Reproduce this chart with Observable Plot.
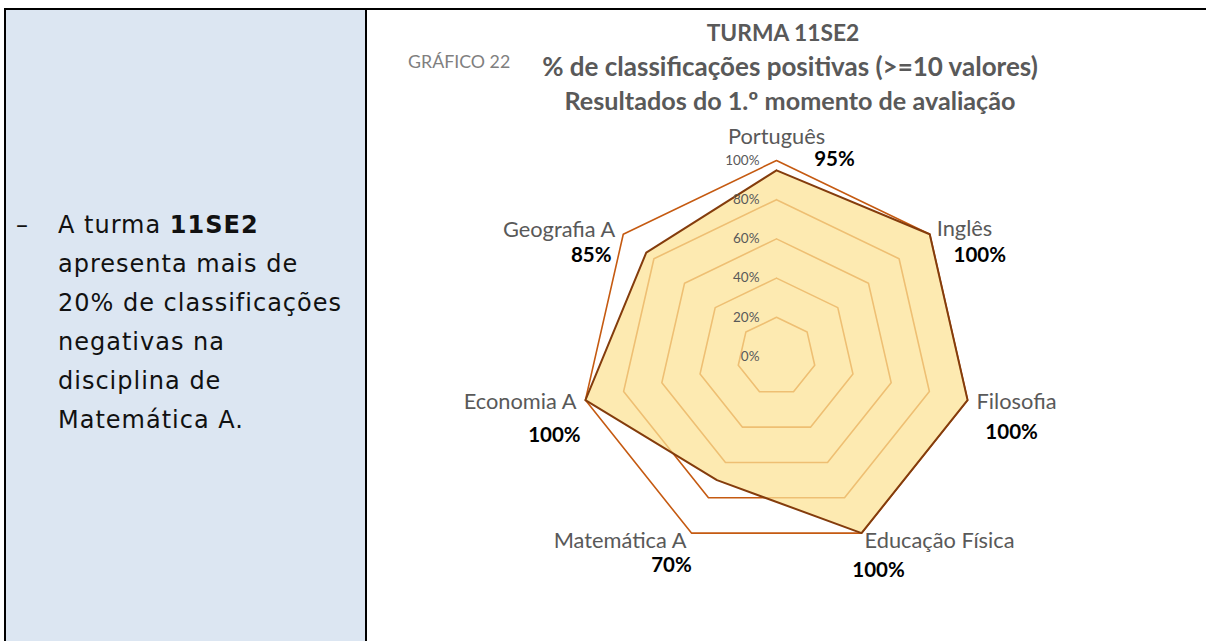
<!DOCTYPE html>
<html>
<head>
<meta charset="utf-8">
<script src="https://cdn.jsdelivr.net/npm/d3@7"></script>
<script src="https://cdn.jsdelivr.net/npm/@observablehq/plot@0.6"></script>
<style>
  html, body { margin: 0; padding: 0; background: #fff; }
  #page { position: relative; width: 1206px; height: 641px; overflow: hidden; background: #fff; }
  .bar { position: absolute; background: #000; }
  #panel { position: absolute; left: 6px; top: 10px; width: 359px; height: 631px; background: #DCE6F2; }
  #note { position: absolute; left: 0; top: 0; font-family: "DejaVu Sans", sans-serif; font-size: 24px; color: #111; letter-spacing: 1.0px; }
  #note div { position: absolute; white-space: nowrap; line-height: 30px; }
  .t { position: absolute; left: 368px; width: 844px; text-align: center; font-family: Lato, "Open Sans", sans-serif; font-weight: bold; color: #595959; white-space: nowrap; line-height: 1.2; }
  #fig { position: absolute; left: 408px; top: 51px; font-family: Lato, sans-serif; font-size: 17.8px; color: #7F7F7F; line-height: 1.2; }
  #chart { position: absolute; left: 368px; top: 120px; }
</style>
</head>
<body>
<div id="page">
  <div id="panel"></div>
  <div class="bar" style="left:4px;top:8px;width:1202px;height:2px"></div>
  <div class="bar" style="left:4px;top:8px;width:2px;height:633px"></div>
  <div class="bar" style="left:365px;top:8px;width:2px;height:633px"></div>
  <div id="note"></div>
  <div class="t" style="top:18.5px;font-size:22.8px;left:361px;">TURMA 11SE2</div>
  <div class="t" style="top:51px;font-size:26px;">% de classificações positivas (&gt;=10 valores)</div>
  <div class="t" style="top:84.5px;font-size:25.2px;">Resultados do 1.º momento de avaliação</div>
  <div id="fig">GRÁFICO 22</div>
  <div id="chart"></div>
</div>
<script>
// ---- data ----
const categories = ["Português", "Inglês", "Filosofia", "Educação Física", "Matemática A", "Economia A", "Geografia A"];
const values = [95, 100, 100, 100, 70, 100, 85];
const ringLevels = [20, 40, 60, 80, 100];
const tickValues = [0, 20, 40, 60, 80, 100];
const tickLabels = ["0%", "20%", "40%", "60%", "80%", "100%"];
const noteLines = [
  ["A turma ", "11SE2"],
  ["apresenta mais de"],
  ["20% de classificações"],
  ["negativas na"],
  ["disciplina de"],
  ["Matemática A."]
];
// label nudges (pixels) relative to each axis' outer vertex
const catNudge = [[0, -23, "middle"], [7, -5.5, "start"], [9, 1.5, "start"], [3, 7.5, "start"], [-5, 7.5, "end"], [-9, 1.5, "end"], [-8, -4.5, "end"]];
const valNudge = [[58, -1], [50, 21], [44, 32], [17, 37], [-20, 32], [-31, 35], [-32, 21]];

// ---- left note ----
const note = document.getElementById("note");
const dash = document.createElement("div");
dash.textContent = "–";
dash.style.left = "16px"; dash.style.top = "210px";
note.appendChild(dash);
noteLines.forEach((parts, i) => {
  const d = document.createElement("div");
  d.style.left = "58px";
  d.style.top = (210 + i * 39) + "px";
  parts.forEach((p, j) => {
    const s = document.createElement("span");
    s.textContent = p;
    if (j === 1) s.style.fontWeight = "bold";
    d.appendChild(s);
  });
  note.appendChild(d);
});

// ---- radar geometry ----
const n = categories.length;
const K = 1.96;           // pixels per percentage point
const W = 816, H = 472;
const ang = i => (i * 2 * Math.PI) / n;
const px = (i, r) => r * Math.sin(ang(i));
const py = (i, r) => r * Math.cos(ang(i));

const ringPts = ringLevels.flatMap(level =>
  d3.range(n + 1).map(k => ({level, x: px(k % n, level), y: py(k % n, level)})));
const dataPts = d3.range(n + 1).map(k => ({cat: categories[k % n], x: px(k % n, values[k % n]), y: py(k % n, values[k % n])}));
const ticks = tickValues.map((v, i) => ({label: tickLabels[i], x: -17 / K, y: v}));
const cats = categories.map((c, i) => ({
  label: c, x: px(i, 100) + catNudge[i][0] / K, y: py(i, 100) - catNudge[i][1] / K, anchor: catNudge[i][2]
}));
const vals = values.map((v, i) => ({
  label: v + "%", x: px(i, 100) + valNudge[i][0] / K, y: py(i, 100) - valNudge[i][1] / K
}));

const catFont = {fill: "#595959", fontSize: 21.8, fontFamily: "Lato"};
const chart = Plot.plot({
  width: W, height: H, margin: 0,
  x: {domain: [-W / 2 / K, W / 2 / K], axis: null},
  y: {domain: [-H / 2 / K, H / 2 / K], axis: null},
  style: {overflow: "visible", background: "transparent"},
  marks: [
    Plot.line(ringPts, {x: "x", y: "y", z: "level", stroke: "#C55A11", strokeWidth: 1.6}),
    Plot.line(dataPts, {x: "x", y: "y", fill: "rgba(252,226,150,0.74)", stroke: "none"}),
    Plot.line(dataPts, {x: "x", y: "y", stroke: "#843C0C", strokeWidth: 2}),
    Plot.text(ticks, {x: "x", y: "y", text: "label", textAnchor: "end", fill: "#595959", fontSize: 13.5, fontFamily: "Lato"}),
    Plot.text(cats.filter(d => d.anchor === "middle"), {x: "x", y: "y", text: "label", textAnchor: "middle", ...catFont}),
    Plot.text(cats.filter(d => d.anchor === "start"), {x: "x", y: "y", text: "label", textAnchor: "start", ...catFont}),
    Plot.text(cats.filter(d => d.anchor === "end"), {x: "x", y: "y", text: "label", textAnchor: "end", ...catFont}),
    Plot.text(vals, {x: "x", y: "y", text: "label", textAnchor: "middle", fill: "#000", fontSize: 20.5, fontWeight: "bold", fontFamily: "Lato"})
  ]
});
document.getElementById("chart").appendChild(chart);
</script>
</body>
</html>
